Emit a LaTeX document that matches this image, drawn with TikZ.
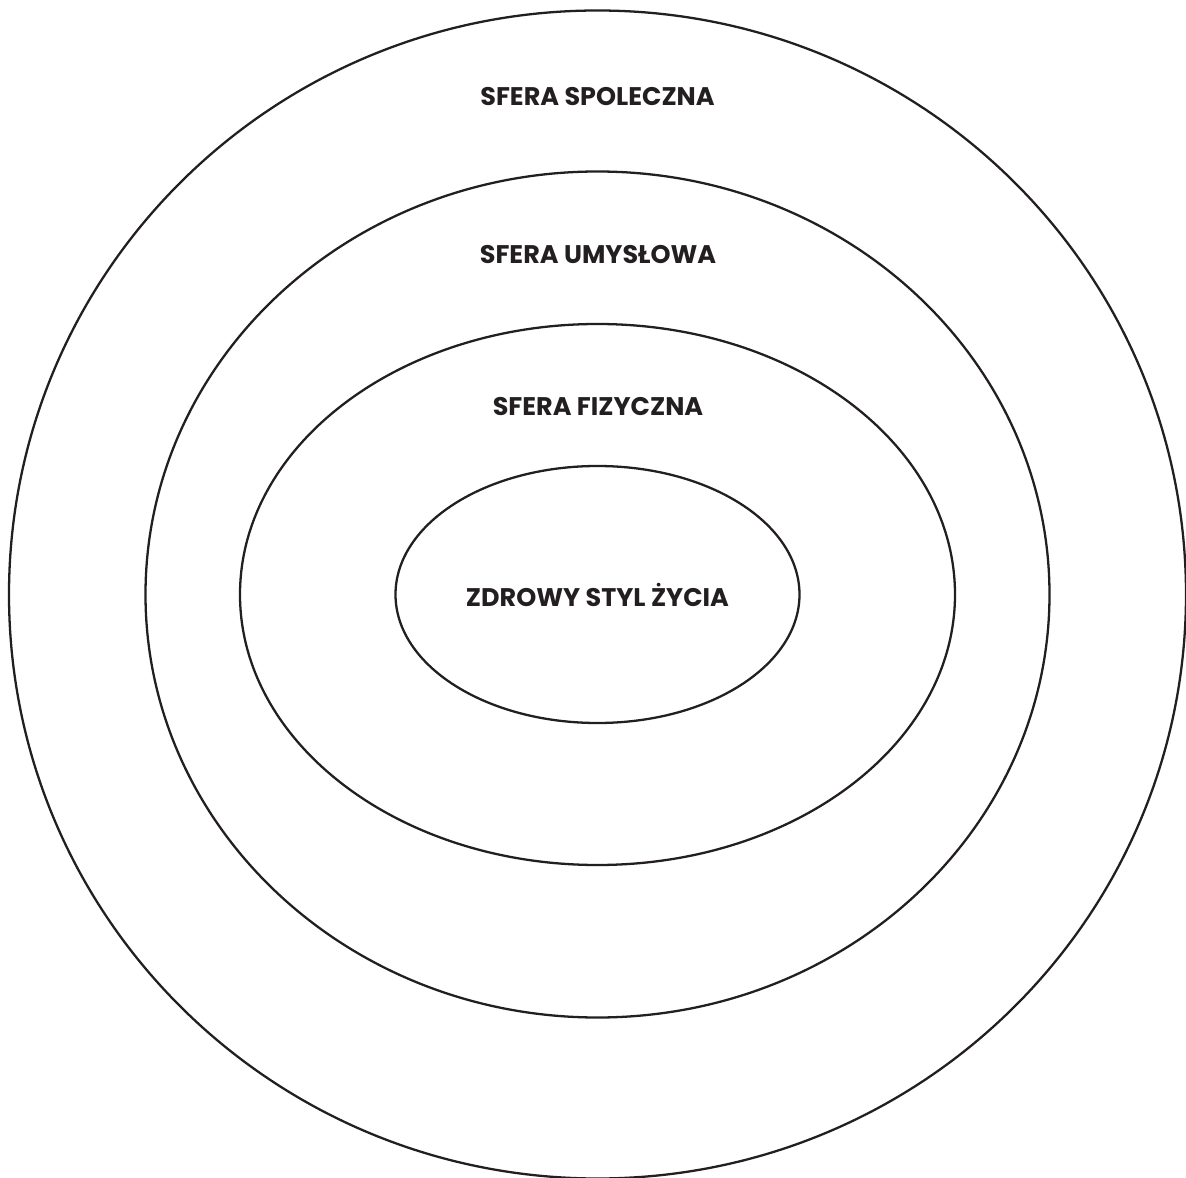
\documentclass[tikz,border=0pt]{standalone}
\usepackage{fontspec}
\setmainfont{Poppins}
\usetikzlibrary{shapes.geometric}
\definecolor{ink}{HTML}{231F20}
\tikzset{
  sfera/.style  ={ellipse, draw=ink, line width=1.3pt, inner sep=0pt},
  sferalbl/.style={font=\fontsize{14.5}{17}\selectfont\bfseries, text=ink,
                  inner sep=1pt}
}
\begin{document}
\begin{tikzpicture}[x=1cm,y=1cm]
\useasboundingbox (0,0) rectangle (23.72,-23.56);
%% nested spheres, largest first
\node[sfera, minimum width=235.4mm, minimum height=233.6mm] (spol) at (11.95,-11.89) {};
\node[sfera, minimum width=180.8mm, minimum height=169.2mm] (umysl) at (11.95,-11.89) {};
\node[sfera, minimum width=143.0mm, minimum height=108.2mm] (fiz) at (11.95,-11.89) {};
\node[sfera, minimum width=80.8mm, minimum height=51.4mm, sferalbl, inner sep=0pt] (zdrowy)
      at (11.95,-11.89) {ZDROWY STYL ŻYCIA};

\node[sferalbl] (lspol)  at (11.95,-1.94) {SFERA SPOLECZNA};
\node[sferalbl] (lumysl) at (11.96,-5.10) {SFERA UMYSŁOWA};
\node[sferalbl] (lfiz)   at (11.96,-8.14) {SFERA FIZYCZNA};
\end{tikzpicture}
\end{document}
